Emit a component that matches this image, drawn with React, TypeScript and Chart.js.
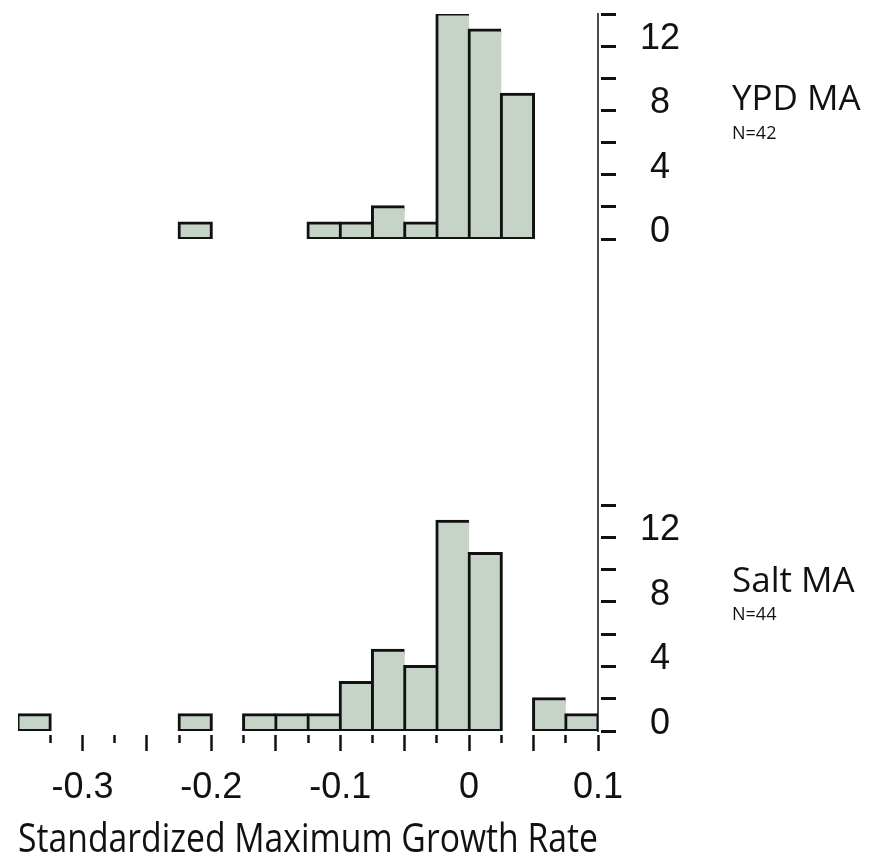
import { useEffect, useRef } from 'react';
import { Chart, registerables } from 'chart.js';

Chart.register(...registerables);

// Histogram bins are 0.025 wide; each array lists the left edge of bins with at least one line.
const binWidth = 0.025;
const ypdBinStarts = [-0.225, -0.125, -0.1, -0.075, -0.05, -0.025, 0, 0.025];
const ypdCounts = [1, 1, 1, 2, 1, 14, 13, 9];
const saltBinStarts = [-0.35, -0.225, -0.175, -0.15, -0.125, -0.1, -0.075, -0.05, -0.025, 0, 0.05, 0.075];
const saltCounts = [1, 1, 1, 1, 1, 3, 5, 4, 13, 11, 2, 1];

const xTickLabels = [-0.3, -0.2, -0.1, 0, 0.1];
const yTickLabels = [0, 4, 8, 12];
const panelNames = ['YPD MA', 'Salt MA'];
const panelSizes = [42, 44];
const xTitle = 'Standardized Maximum Growth Rate';

// Side captions, placed on each panel's count scale.
const panelLayout = [
  { axis: 'yTop', nameAt: 8.0, sizeAt: 6.25 },
  { axis: 'yBottom', nameAt: 8.6, sizeAt: 6.9 },
];

const FILL = '#c6d4c8';
const INK = '#111111';

function toPoints(starts: number[], counts: number[]) {
  return starts.map((s, i) => ({ x: s + binWidth / 2, y: counts[i] }));
}

// Bars share a single outline where two occupied bins touch.
function barBorder(starts: number[]) {
  return (ctx: any) => {
    const i = ctx.dataIndex;
    const next = starts[i + 1];
    const touching = next !== undefined && Math.abs(next - starts[i] - binWidth) < 1e-9;
    return { top: 3, left: 3, bottom: 3, right: touching ? 0 : 3 };
  };
}

const captionPlugin = {
  id: 'panelCaptions',
  afterDraw(chart: any) {
    const { ctx } = chart;
    panelLayout.forEach((p, i) => {
      const s = chart.scales[p.axis];
      const x = s.left + 134;
      ctx.save();
      ctx.fillStyle = INK;
      ctx.textAlign = 'left';
      ctx.textBaseline = 'alphabetic';
      ctx.font = '35px "Open Sans"';
      ctx.fillText(panelNames[i], x, s.getPixelForValue(p.nameAt));
      ctx.font = '18px "Open Sans"';
      ctx.fillText('N=' + panelSizes[i], x, s.getPixelForValue(p.sizeAt));
      ctx.restore();
    });
  },
};

// Right-hand axes keep a fixed width and no label overhang padding.
function fixRight(s: any) {
  s.width = 280;
  s.paddingTop = 0;
  s.paddingBottom = 0;
}

function countAxis(weight: number) {
  return {
    type: 'linear' as const,
    position: 'right' as const,
    stack: 'panels',
    stackWeight: weight,
    min: 0,
    max: 14,
    afterFit: fixRight,
    border: { display: true, color: '#4a4a4a', width: 2 },
    grid: {
      drawOnChartArea: false,
      tickLength: 18,
      tickWidth: 3,
      tickColor: INK,
      tickBorderDash: [16, 100],
      tickBorderDashOffset: -2,
    },
    ticks: {
      stepSize: 2,
      autoSkip: false,
      crossAlign: 'center' as const,
      padding: 24,
      labelOffset: -7,
      color: INK,
      font: { family: '"Liberation Sans", Arial', size: 36 },
      callback: (v: any) => (yTickLabels.includes(Number(v)) ? String(v) : ''),
    },
  };
}

export default function App() {
  const ref = useRef<HTMLCanvasElement | null>(null);

  useEffect(() => {
    if (!ref.current) return;
    const barStyle = {
      backgroundColor: FILL,
      borderColor: INK,
      borderSkipped: false,
      grouped: false,
      barPercentage: 1,
      categoryPercentage: 1,
      // centre the outline on the bin edges
      inflateAmount: 1.5,
    };
    const chart = new Chart(ref.current, {
      type: 'bar',
      data: {
        datasets: [
          {
            label: panelNames[0],
            data: toPoints(ypdBinStarts, ypdCounts),
            yAxisID: 'yTop',
            borderWidth: barBorder(ypdBinStarts),
            ...barStyle,
          } as any,
          {
            label: panelNames[1],
            data: toPoints(saltBinStarts, saltCounts),
            yAxisID: 'yBottom',
            borderWidth: barBorder(saltBinStarts),
            ...barStyle,
          } as any,
        ],
      },
      options: {
        animation: false,
        responsive: false,
        layout: { padding: { left: 18, top: 14, right: 0, bottom: 0 } },
        plugins: { legend: { display: false }, tooltip: { enabled: false } },
        scales: {
          x: {
            type: 'linear',
            min: -0.35,
            max: 0.1,
            offset: false,
            afterFit: (s: any) => {
              s.height = 134;
              s.paddingLeft = 0;
              s.paddingRight = 0;
            },
            border: { display: false },
            grid: {
              offset: false,
              drawOnChartArea: false,
              tickLength: 21,
              tickWidth: 2.5,
              tickColor: (c: any) => (c.tick && c.tick.value < -0.34 ? 'rgba(0,0,0,0)' : INK),
              tickBorderDash: (c: any) => {
                const k = Math.round((c.tick ? c.tick.value : 0) * 40);
                return k % 2 === 0 ? [16, 100] : [8, 100];
              },
              tickBorderDashOffset: -4,
            },
            ticks: {
              stepSize: 0.025,
              autoSkip: false,
              maxRotation: 0,
              minRotation: 0,
              padding: 14,
              color: INK,
              font: { family: '"Liberation Sans", Arial', size: 36 },
              callback: (v: any) => {
                const r = Math.round(Number(v) * 1000) / 1000;
                return xTickLabels.includes(r) ? String(r) : '';
              },
            },
            title: {
              display: true,
              text: xTitle,
              color: INK,
              padding: { top: 0, bottom: 0 },
              font: { family: '"Open Sans"', size: 41 },
            },
          },
          yTop: countAxis(225),
          yGap: {
            type: 'linear',
            position: 'right',
            stack: 'panels',
            stackWeight: 266,
            min: 0,
            max: 1,
            afterFit: fixRight,
            border: { display: true, color: '#4a4a4a', width: 2 },
            grid: { drawOnChartArea: false, drawTicks: false },
            ticks: { display: false },
          },
          yBottom: countAxis(226),
        } as any,
      },
      plugins: [captionPlugin],
    });
    return () => chart.destroy();
  }, []);

  return (
    <div style={{ position: 'absolute', left: 0, top: 0, width: 878, height: 865, background: '#fff' }}>
      <canvas ref={ref} width={878} height={865} style={{ display: 'block' }} />
    </div>
  );
}
